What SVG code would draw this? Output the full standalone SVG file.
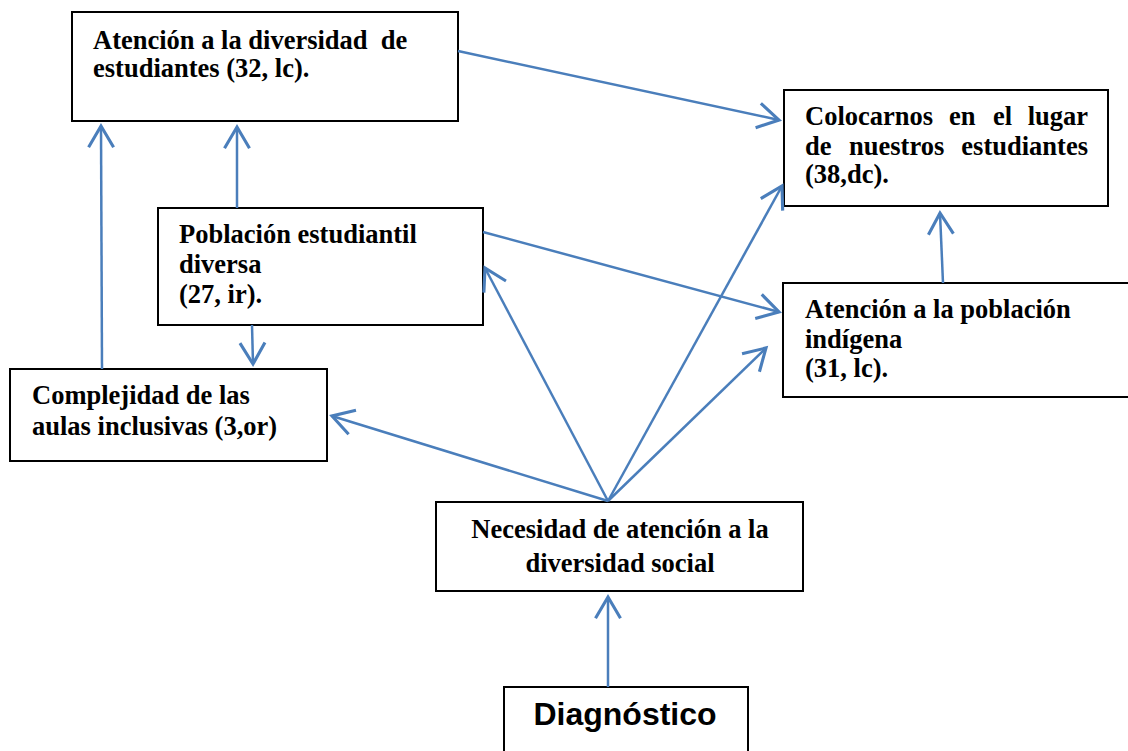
<svg xmlns="http://www.w3.org/2000/svg" width="1128" height="751" viewBox="0 0 1128 751">
<style>
  .box { fill: #ffffff; stroke: #000000; stroke-width: 2; }
  .t { font-family: "Liberation Serif", "Times New Roman", serif; font-weight: bold; font-size: 26.5px; fill: #000000; }
  .ts { font-family: "Liberation Sans", Arial, sans-serif; font-weight: bold; font-size: 32px; fill: #000000; }
  .c { fill: none; stroke: #4A7EBB; stroke-width: 2.5; }
</style>
<defs>
  <marker id="arr" markerUnits="userSpaceOnUse" markerWidth="30" markerHeight="30" viewBox="-20 -12 22 24" refX="0" refY="0" orient="auto">
    <path d="M-17,-10 L0,0 L-17,10" fill="none" stroke="#4A7EBB" stroke-width="2.5"/>
  </marker>
</defs>
<rect width="1128" height="751" fill="#ffffff"/>

<g id="n1">
  <rect class="box" x="72" y="12" width="386" height="109"/>
  <text class="t" x="93" y="49" xml:space="preserve">Atención a la diversidad  de</text>
  <text class="t" x="93" y="77">estudiantes (32, lc).</text>
</g>

<g id="n2">
  <rect class="box" x="784" y="90" width="324" height="116"/>
  <text class="t" y="125"><tspan x="805">Colocarnos</tspan><tspan x="949">en</tspan><tspan x="993">el</tspan><tspan x="1088" text-anchor="end">lugar</tspan></text>
  <text class="t" y="155"><tspan x="805">de</tspan><tspan x="849">nuestros</tspan><tspan x="1088" text-anchor="end">estudiantes</tspan></text>
  <text class="t" x="805" y="183">(38,dc).</text>
</g>

<g id="n3">
  <rect class="box" x="158" y="208" width="325" height="117"/>
  <text class="t" x="179" y="243">Población estudiantil</text>
  <text class="t" x="179" y="273">diversa</text>
  <text class="t" x="179" y="303">(27, ir).</text>
</g>

<g id="n4">
  <rect class="box" x="783" y="283" width="360" height="114"/>
  <text class="t" x="805" y="318">Atención a la población</text>
  <text class="t" x="805" y="348">indígena</text>
  <text class="t" x="805" y="377">(31, lc).</text>
</g>

<g id="n5">
  <rect class="box" x="10" y="369" width="317" height="92"/>
  <text class="t" x="32" y="404">Complejidad de las</text>
  <text class="t" x="32" y="435">aulas inclusivas (3,or)</text>
</g>

<g id="n6">
  <rect class="box" x="436" y="502" width="367" height="89"/>
  <text class="t" x="620" y="538" text-anchor="middle">Necesidad de atención a la</text>
  <text class="t" x="620" y="572" text-anchor="middle">diversidad social</text>
</g>

<g id="n7">
  <rect class="box" x="504" y="687" width="244" height="80"/>
  <text class="ts" x="625" y="725" text-anchor="middle">Diagnóstico</text>
</g>

<g id="connectors">
  <line class="c" x1="458" y1="51" x2="779" y2="120" marker-end="url(#arr)"/>
  <line class="c" x1="943" y1="283" x2="940" y2="213" marker-end="url(#arr)"/>
  <line class="c" x1="102" y1="369" x2="101" y2="126" marker-end="url(#arr)"/>
  <line class="c" x1="237" y1="208" x2="237" y2="127" marker-end="url(#arr)"/>
  <line class="c" x1="252" y1="325" x2="253" y2="364" marker-end="url(#arr)"/>
  <line class="c" x1="483" y1="232" x2="779" y2="312" marker-end="url(#arr)"/>
  <line class="c" x1="608" y1="501" x2="332" y2="416" marker-end="url(#arr)"/>
  <line class="c" x1="608" y1="501" x2="485" y2="268" marker-end="url(#arr)"/>
  <line class="c" x1="608" y1="501" x2="782" y2="186" marker-end="url(#arr)"/>
  <line class="c" x1="608" y1="501" x2="766" y2="348" marker-end="url(#arr)"/>
  <line class="c" x1="608" y1="687" x2="608" y2="597" marker-end="url(#arr)"/>
</g>
</svg>
